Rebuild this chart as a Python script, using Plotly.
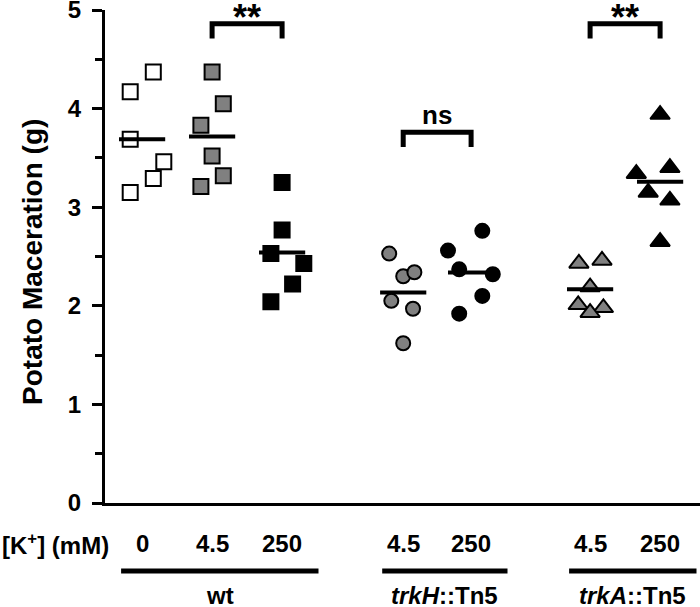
import plotly.graph_objects as go

# group positions along x (0, 4.5, 250 mM for wt; 4.5, 250 for the two mutants)
group_pos = [0, 1, 2, 3.73, 4.7, 6.4, 7.4]
group_ticks = ["0", "4.5", "250", "4.5", "250", "4.5", "250"]

# potato maceration (g)
wt_0 = [4.37, 4.17, 3.69, 3.46, 3.29, 3.15]
wt_45 = [4.37, 4.05, 3.83, 3.52, 3.32, 3.21]
wt_250 = [3.25, 2.77, 2.53, 2.43, 2.22, 2.04]
trkH_45 = [2.53, 2.30, 2.34, 2.05, 1.97, 1.62]
trkH_250 = [2.76, 2.56, 2.37, 2.32, 2.10, 1.92]
trkA_45 = [2.43, 2.46, 2.19, 2.01, 1.98, 1.93]
trkA_250 = [3.94, 3.40, 3.34, 3.15, 3.07, 2.65]

# horizontal scatter of each point inside its column
wt_0_dx = [0.16, -0.17, -0.17, 0.31, 0.16, -0.17]
wt_45_dx = [0, 0.16, -0.16, 0, 0.16, -0.16]
wt_250_dx = [0, 0, -0.16, 0.31, 0.15, -0.16]
trkH_45_dx = [-0.2, 0, 0.16, -0.17, 0.14, 0]
trkH_250_dx = [0.16, -0.33, -0.17, 0.31, 0.16, -0.17]
trkA_45_dx = [-0.16, 0.17, 0, -0.17, 0.19, 0]
trkA_250_dx = [0, 0.14, -0.34, -0.17, 0.14, 0]

strains = ["wt", "<i>trkH</i>::Tn5", "<i>trkA</i>::Tn5"]
strain_groups = [[0, 1, 2], [3, 4], [5, 6]]

# significance brackets: (left group, right group, label, top value)
brackets = [(1, 2, "**", 4.86), (3, 4, "ns", 3.76), (5, 6, "**", 4.86)]

GRAY = "#808080"
FONT = "Liberation Sans, Arial, sans-serif"

series = [
    (wt_0, wt_0_dx, "square", "white", 15),
    (wt_45, wt_45_dx, "square", GRAY, 15),
    (wt_250, wt_250_dx, "square", "black", 15),
    (trkH_45, trkH_45_dx, "circle", GRAY, 14),
    (trkH_250, trkH_250_dx, "circle", "black", 14),
    (trkA_45, trkA_45_dx, "triangle-up", GRAY, 17),
    (trkA_250, trkA_250_dx, "triangle-up", "black", 17),
]

fig = go.Figure()

for i, (vals, dx, sym, col, size) in enumerate(series):
    xs = [group_pos[i] + d for d in dx]
    fig.add_trace(go.Scatter(
        x=xs, y=vals, mode="markers",
        marker=dict(symbol=sym, size=size, color=col,
                    line=dict(color="black", width=2)),
        showlegend=False, cliponaxis=False, hoverinfo="skip",
    ))
    # mean line
    m = sum(vals) / len(vals)
    fig.add_trace(go.Scatter(
        x=[group_pos[i] - 0.33, group_pos[i] + 0.33], y=[m, m],
        mode="lines", line=dict(color="black", width=4),
        showlegend=False, hoverinfo="skip",
    ))

# brackets
for a, b, lab, top in brackets:
    xa, xb = group_pos[a], group_pos[b]
    fig.add_shape(type="path",
                  path=f"M {xa},{top - 0.15} L {xa},{top} L {xb},{top} L {xb},{top - 0.15}",
                  line=dict(color="black", width=5))
    if lab == "**":
        fig.add_annotation(x=(xa + xb) / 2, y=top, yanchor="bottom", yshift=-16,
                           text=f"<b>{lab}</b>", showarrow=False,
                           font=dict(size=36, color="black", family=FONT))
    else:
        fig.add_annotation(x=(xa + xb) / 2, y=top, yanchor="bottom", yshift=0,
                           text=f"<b>{lab}</b>", showarrow=False,
                           font=dict(size=26, color="black", family=FONT))

# concentration labels under the axis
for p, t in zip(group_pos, group_ticks):
    fig.add_annotation(x=p, y=-0.083, xref="x", yref="paper", xanchor="center",
                       yanchor="middle", text=f"<b>{t}</b>",
                       showarrow=False, font=dict(size=24, color="black", family=FONT))

fig.add_annotation(x=-0.177, y=-0.083, xref="paper", yref="paper", xanchor="left",
                   yanchor="middle", text="<b>[K<sup>+</sup>] (mM)</b>", showarrow=False,
                   font=dict(size=24, color="black", family=FONT))

# strain underlines and names
for name, idx in zip(strains, strain_groups):
    x0 = group_pos[idx[0]] - 0.3
    x1 = group_pos[idx[-1]] + 0.52
    fig.add_shape(type="line", xref="x", yref="paper", x0=x0, x1=x1, y0=-0.138, y1=-0.138,
                  line=dict(color="black", width=5))
    fig.add_annotation(x=(x0 + x1) / 2, y=-0.187, xref="x", yref="paper",
                       xanchor="center", yanchor="middle",
                       text=f"<b>{name}</b>", showarrow=False,
                       font=dict(size=24, color="black", family=FONT))

fig.add_annotation(x=-0.121, y=0.489, xref="paper", yref="paper", textangle=-90,
                   xanchor="center", yanchor="middle",
                   text="<b>Potato Maceration (g)</b>", showarrow=False,
                   font=dict(size=28, color="black", family=FONT))

fig.update_xaxes(range=[-0.53, 7.97], showline=True, linecolor="black", linewidth=3,
                 showgrid=False, zeroline=False, showticklabels=False, ticks="",
                 automargin=False)
fig.update_yaxes(range=[0, 5], tickvals=[0, 1, 2, 3, 4, 5], showline=True,
                 linecolor="black", linewidth=3, ticks="outside", ticklen=10,
                 tickwidth=3, tickcolor="black", showgrid=False, zeroline=False,
                 automargin=False, ticklabeloverflow="allow", ticklabelstandoff=6,
                 tickfont=dict(size=24, color="black", family=FONT, weight="bold"),
                 minor=dict(tickvals=[0.5, 1.5, 2.5, 3.5, 4.5], ticks="outside",
                            ticklen=7, tickwidth=3, tickcolor="black"))

fig.update_layout(width=700, height=607, margin=dict(l=105, r=0, t=10, b=104),
                  plot_bgcolor="white", paper_bgcolor="white",
                  font=dict(family=FONT, color="black"), hovermode=False)

# drop the page's default 8px body margin so the figure sits at the window corner
fig.write_html("out.html", config={"displayModeBar": False},
               post_script="document.body.style.margin='0px';")
